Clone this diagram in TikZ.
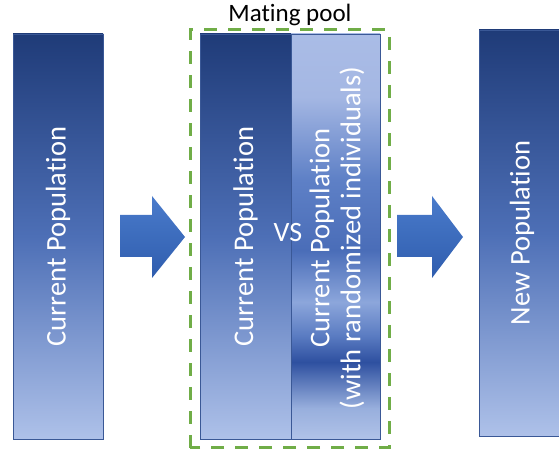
\documentclass[tikz,border=0pt]{standalone}
\usepackage{fontspec}
\setmainfont{Carlito}[Ligatures=NoCommon]
\definecolor{popTop}{HTML}{1F3B78}
\definecolor{popMid}{HTML}{4D6FB6}
\definecolor{popBot}{HTML}{AEC1E9}
\definecolor{popEdge}{HTML}{3A5896}
\definecolor{arrTop}{HTML}{4A7BCB}
\definecolor{arrBot}{HTML}{2F5DAE}
\definecolor{poolGreen}{HTML}{70AD47}
\definecolor{rA}{HTML}{AABCE6}
\definecolor{rB}{HTML}{A4B7E3}
\definecolor{rC}{HTML}{5E80C6}
\definecolor{rD}{HTML}{4A6DB8}
\definecolor{rE}{HTML}{8CA6DB}
\definecolor{rF}{HTML}{5B7CC2}
\definecolor{rG}{HTML}{2E50A0}
\definecolor{rH}{HTML}{98AFDD}
\definecolor{rI}{HTML}{B0C2E8}
\pgfdeclareverticalshading{randshade}{100bp}{%
  color(0bp)=(rI);
  color(25bp)=(rI);
  color(28.8bp)=(rH);
  color(34.5bp)=(rG);
  color(37.8bp)=(rF);
  color(41.9bp)=(rE);
  color(48.3bp)=(rD);
  color(57bp)=(rC);
  color(67.2bp)=(rB);
  color(75bp)=(rA);
  color(100bp)=(rA)}
\tikzset{
  popbox/.style={draw=popEdge, line width=0.6pt, top color=popTop, bottom color=popBot, middle color=popMid},
  randbox/.style={draw=popEdge, line width=0.6pt, shading=randshade},
  poptext/.style={text=white, font=\fontsize{28.5}{31}\selectfont, rotate=90, align=center, inner sep=0pt},
  bigarrow/.style={top color=arrTop, bottom color=arrBot, draw=none},
  poolbox/.style={draw=poolGreen, line width=3pt, dash pattern=on 13pt off 11pt},
  pooltitle/.style={font=\fontsize{25}{30}\selectfont, text=black, inner sep=0pt}
}
\begin{document}
\begin{tikzpicture}[x=1pt,y=1pt]
\useasboundingbox (0,0) rectangle (559,452);
% left population
\shade[popbox] (13,13) rectangle (103,418);
\node[poptext] (curpop) at (58,215.5) {Current Population};
% arrow 1
\shade[bigarrow] (120,195) -- (152,195) -- (152,174) -- (185,215) -- (152,256) -- (152,237) -- (120,237) -- cycle;
\coordinate (arrowA) at (152,215);
% mating pool
\shade[popbox] (200,13) rectangle (291,418);
\shade[randbox] (291,13) rectangle (380,418);
\node[poptext] (curpop2) at (245.5,215.5) {Current Population};
\node[poptext] (randpop) at (337,214) {Current Population\\(with randomized individuals)};
\node[text=white, font=\fontsize{28}{31}\selectfont, inner sep=0pt] (vs) at (288,219) {VS};
\draw[poolbox] (190,4) rectangle (389,422);
\node[pooltitle, anchor=base] (pool) at (290,430) {Mating pool};
% arrow 2
\shade[bigarrow] (397,195) -- (432,195) -- (432,174) -- (463,215) -- (432,256) -- (432,237) -- (397,237) -- cycle;
\coordinate (arrowB) at (432,215);
% new population
\shade[popbox] (479,16) rectangle (569,422);
\node[poptext] (newpop) at (522,219) {New Population};
\end{tikzpicture}
\end{document}
